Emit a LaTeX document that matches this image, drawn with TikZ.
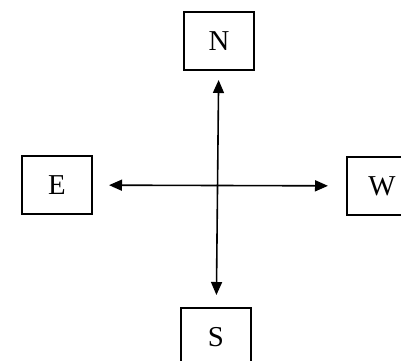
\documentclass[tikz,border=0pt]{standalone}
\usepackage{fontspec}
\setmainfont{Liberation Serif}
\usetikzlibrary{arrows.meta}

\begin{document}
\begin{tikzpicture}[
  x=0.5pt, y=-0.5pt,
  dir/.style={rectangle, draw, line width=1pt, minimum width=35pt, minimum height=29pt, font=\Large},
  arr/.style={{Triangle[length=6.5pt,width=5.5pt]}-{Triangle[length=6.5pt,width=5.5pt]}, line width=0.8pt}
]
\useasboundingbox (0,0) rectangle (401,360);

\node[dir] (n) at (219,41) {N};
\node[dir] (e) at (57,185) {E};
\node[dir] (w) at (382,186) {W};
\node[dir] (s) at (216,337) {S};

\draw[arr, shorten <=4.5pt, shorten >=6pt] (n) -- (s);
\draw[arr, shorten <=8pt, shorten >=9pt] (e) -- (w);

\end{tikzpicture}
\end{document}
